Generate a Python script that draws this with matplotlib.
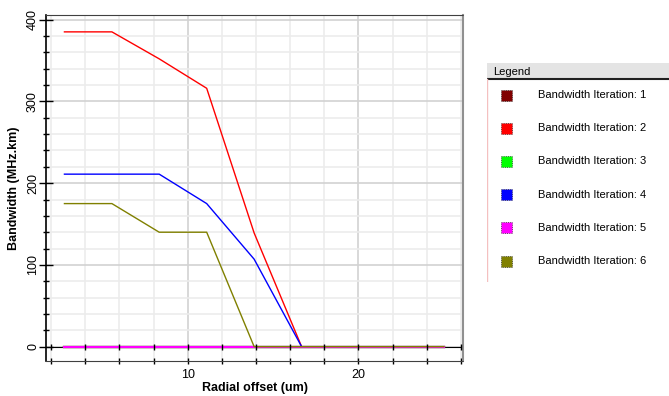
import numpy as np
import matplotlib
matplotlib.use('Agg')
import matplotlib.pyplot as plt
from matplotlib.ticker import MultipleLocator
from matplotlib.patches import Rectangle

plt.rcParams['font.family'] = ['Liberation Sans', 'DejaVu Sans']

# radial offsets (um) and bandwidth per iteration (MHz.km)
offset = [2.78, 5.56, 8.33, 11.11, 13.89, 16.67, 19.44, 22.22, 25.0]
bw_iter1 = [0, 0, 0, 0, 0, 0, 0, 0, 0]
bw_iter2 = [385, 385, 352, 316, 139, 0, 0, 0, 0]
bw_iter3 = [0, 0, 0, 0, 0, 0, 0, 0, 0]
bw_iter4 = [211, 211, 211, 175, 107, 0, 0, 0, 0]
bw_iter5 = [0, 0, 0, 0, 0, 0, 0, 0, 0]
bw_iter6 = [175, 175, 140, 140, 0, 0, 0, 0, 0]

labels = ['Bandwidth Iteration: %d' % i for i in range(1, 7)]
colors = ['#800000', '#ff0000', '#00ff00', '#0000ff', '#ff00ff', '#808000']
series = [bw_iter1, bw_iter2, bw_iter3, bw_iter4, bw_iter5, bw_iter6]

W, H = 669, 396
fig = plt.figure(figsize=(W / 100, H / 100), dpi=100)
ax = fig.add_axes([46 / W, 1 - 361 / H, (463 - 46) / W, (361 - 14.7) / H])

ax.set_xlim(1.7, 26.12)
ax.set_ylim(-17.5, 406)

# grid
ax.xaxis.set_major_locator(MultipleLocator(10))
ax.xaxis.set_minor_locator(MultipleLocator(2))
ax.yaxis.set_major_locator(MultipleLocator(100))
ax.yaxis.set_minor_locator(MultipleLocator(20))
ax.grid(which='minor', color='#ececec', lw=1.2)
ax.grid(which='major', color='#d2d2d2', lw=1.2)
ax.set_axisbelow(True)

# zero line with cross ticks
ax.axhline(0, color='k', lw=0.8, zorder=2)
xt = np.arange(2, 27, 2)
ax.plot(xt, np.zeros(len(xt)), ls='none', marker='|', color='k',
        ms=5, mew=1.0, zorder=4, clip_on=False)

for y, c in zip(series, colors):
    ax.plot(offset, y, color=c, lw=1.6 if max(y) == 0 else 1.0, zorder=3)

for side in ['top', 'bottom']:
    ax.spines[side].set_linestyle((0, (1, 1)))
    ax.spines[side].set_color('#404040')
ax.spines['right'].set_linestyle((0, (1, 1)))
ax.spines['right'].set_color('#909090')
ax.spines['right'].set_linewidth(1.5)
ax.spines['left'].set_color('k')
ax.spines['left'].set_linewidth(1.2)

ax.tick_params(axis='both', which='both', direction='inout', colors='k',
               labelsize=9)
ax.tick_params(axis='x', which='both', length=5, width=1)
ax.tick_params(axis='y', which='major', length=10, width=1)
ax.tick_params(axis='y', which='minor', length=5, width=1)
for lab in ax.get_yticklabels():
    lab.set_rotation(90)
    lab.set_va('center')
ax.tick_params(axis='y', pad=0)
ax.tick_params(axis='x', pad=3)

ax.set_xlabel('Radial offset (um)', fontsize=9, fontweight='bold', labelpad=1)
ax.set_ylabel('Bandwidth (MHz.km)', fontsize=9, fontweight='bold', labelpad=5)

# legend panel
lax = fig.add_axes([487 / W, 1 - 282 / H, (W - 487) / W, (282 - 63) / H])
lax.set_xlim(0, W - 487)
lax.set_ylim(282 - 63, 0)
lax.axis('off')
lax.add_patch(Rectangle((0, 0), W - 487, 16, facecolor='#e4e4e4',
                        edgecolor='none'))
lax.plot([0, W - 487], [16, 16], color='#202020', lw=1.5)
lax.plot([0, 0], [16, 219], color='#f4c0c0', lw=1.0)
lax.text(6, 8.5, 'Legend', fontsize=8, va='center', ha='left')
for i, (lab, c) in enumerate(zip(labels, colors)):
    yc = 32 + i * 33.2
    lax.add_patch(Rectangle((14, yc - 5.5), 11, 11, facecolor=c,
                            edgecolor='#303030', lw=0.6, ls=':'))
    lax.text(51, yc, lab, fontsize=8, va='center', ha='left')

fig.savefig('out.png', dpi=100)
